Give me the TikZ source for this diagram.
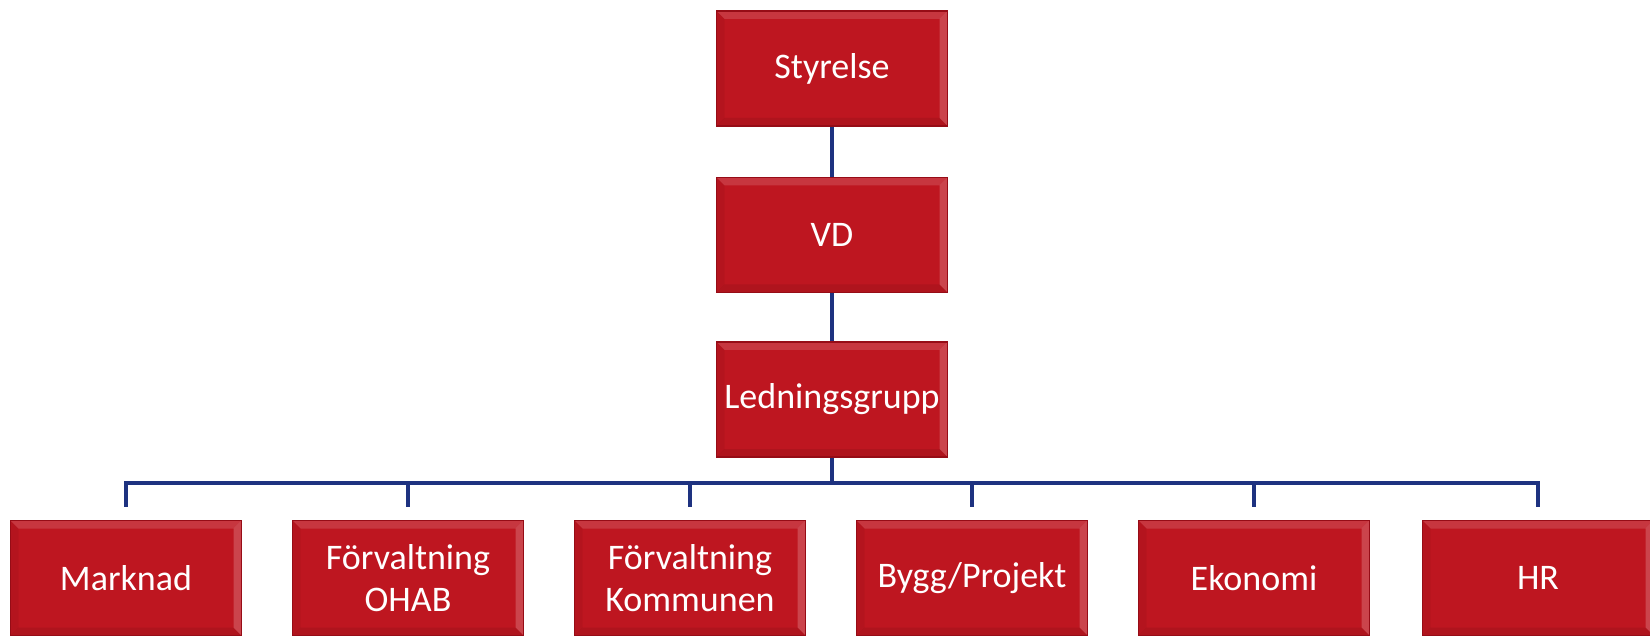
\documentclass[tikz,border=0pt]{standalone}
\usepackage{fontspec}
\setmainfont{Carlito}
\definecolor{boxred}{RGB}{190,22,32}
\definecolor{boxdark}{RGB}{150,12,22}
\definecolor{linkblue}{RGB}{30,50,128}
\tikzset{
  orgbox/.style={rectangle, minimum width=231pt, minimum height=115pt, inner sep=0pt,
    fill=boxred, draw=boxdark, line width=1.2pt, text=white, align=center,
    font=\fontsize{36}{42}\selectfont,
    path picture={
      \fill[white,opacity=0.14] (path picture bounding box.north west) -- (path picture bounding box.north east)
        -- ([xshift=-8pt,yshift=-8pt]path picture bounding box.north east) -- ([xshift=8pt,yshift=-8pt]path picture bounding box.north west) -- cycle;
      \fill[white,opacity=0.20] (path picture bounding box.north east) -- (path picture bounding box.south east)
        -- ([xshift=-8pt,yshift=8pt]path picture bounding box.south east) -- ([xshift=-8pt,yshift=-8pt]path picture bounding box.north east) -- cycle;
      \fill[black,opacity=0.08] (path picture bounding box.south west) -- (path picture bounding box.south east)
        -- ([xshift=-8pt,yshift=8pt]path picture bounding box.south east) -- ([xshift=8pt,yshift=8pt]path picture bounding box.south west) -- cycle;
      \fill[black,opacity=0.05] (path picture bounding box.north west) -- (path picture bounding box.south west)
        -- ([xshift=8pt,yshift=8pt]path picture bounding box.south west) -- ([xshift=8pt,yshift=-8pt]path picture bounding box.north west) -- cycle;
    }},
  conn/.style={draw=linkblue, line width=3.2pt}
}
\begin{document}
\begin{tikzpicture}[x=1pt,y=-1pt]
\useasboundingbox (0,0) rectangle (1650,636);
\clip (0,0) rectangle (1650,636);
\node[orgbox] (s) at (832,68.5) {Styrelse};
\node[orgbox] (v) at (832,235) {VD};
\node[orgbox] (l) at (832,399.5) {Ledningsgrupp};
\coordinate (bus) at (832,483);
\node[orgbox] (m) at (126,578) {Marknad};
\node[orgbox] (o) at (408,578) {Förvaltning\\OHAB};
\node[orgbox] (k) at (690,578) {Förvaltning\\Kommunen};
\node[orgbox] (b) at (972,578) {Bygg/Projekt};
\node[orgbox] (e) at (1254,578) {Ekonomi};
\node[orgbox] (h) at (1538,578) {HR};
\draw[conn] (s.south) -- (v.north);
\draw[conn] (v.south) -- (l.north);
\draw[conn] (l.south) -- (bus);
\draw[conn, line cap=rect] (m.north |- bus) -- (h.north |- bus);
\foreach \n in {m,o,k,b,e,h}{
  \draw[conn, shorten <=13pt] (\n.north) -- (\n.north |- bus);
}
\end{tikzpicture}
\end{document}
